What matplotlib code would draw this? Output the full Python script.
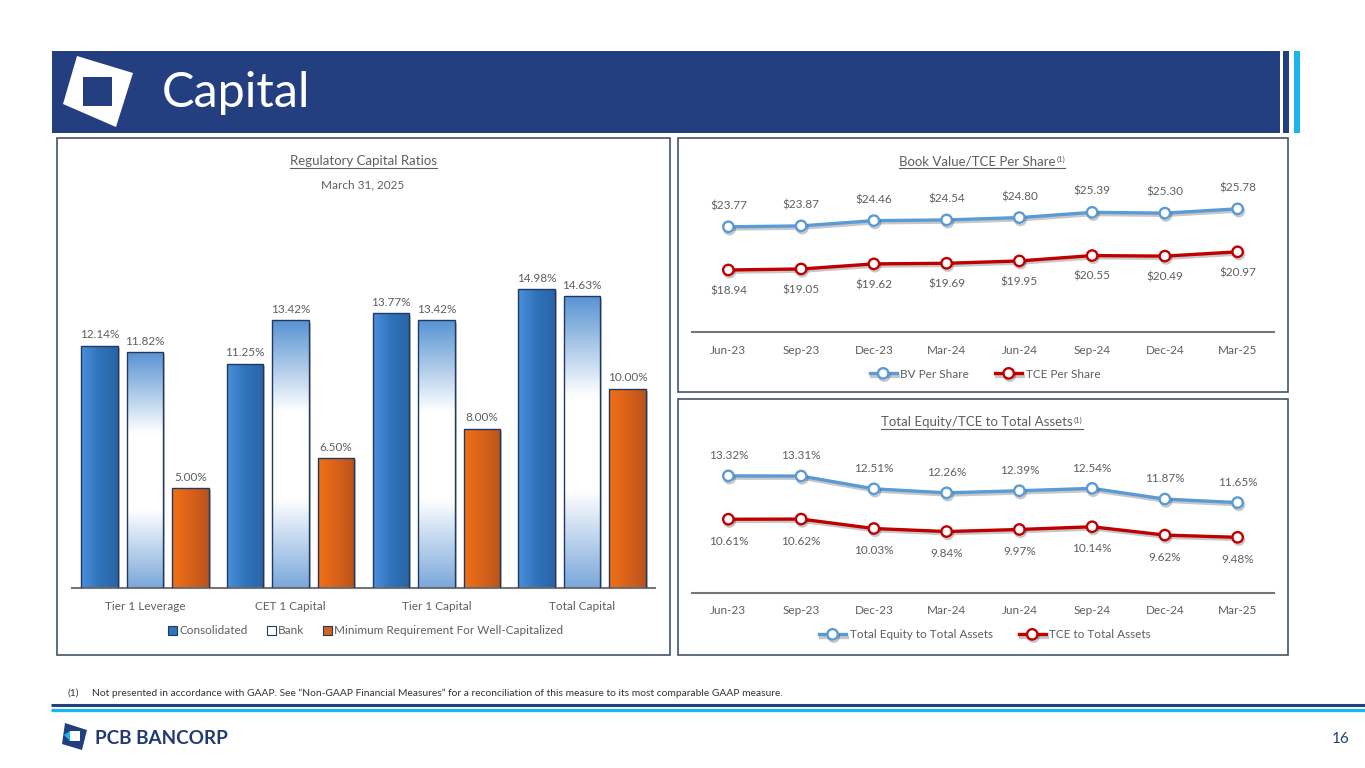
import numpy as np
import matplotlib
matplotlib.use('Agg')
import matplotlib.pyplot as plt
import matplotlib.patheffects as pe
from matplotlib.patches import Rectangle, Polygon, Patch
from matplotlib.colors import to_rgb

plt.rcParams['font.family'] = ['Lato', 'DejaVu Sans']

# Data

bar_categories = ['Tier 1 Leverage', 'CET 1 Capital', 'Tier 1 Capital', 'Total Capital']
consolidated = [12.14, 11.25, 13.77, 14.98]
bank = [11.82, 13.42, 13.42, 14.63]
well_cap_min = [5.00, 6.50, 8.00, 10.00]
bar_legend = ['Consolidated', 'Bank', 'Minimum Requirement For Well-Capitalized']

quarters = ['Jun-23', 'Sep-23', 'Dec-23', 'Mar-24', 'Jun-24', 'Sep-24', 'Dec-24', 'Mar-25']
bv_per_share = [23.77, 23.87, 24.46, 24.54, 24.80, 25.39, 25.30, 25.78]
tce_per_share = [18.94, 19.05, 19.62, 19.69, 19.95, 20.55, 20.49, 20.97]
equity_to_assets = [13.32, 13.31, 12.51, 12.26, 12.39, 12.54, 11.87, 11.65]
tce_to_assets = [10.61, 10.62, 10.03, 9.84, 9.97, 10.14, 9.62, 9.48]

# Styling

W, H = 1365, 768
NAVY = '#233F80'
SKY = '#1CB4EF'
GRAY = '#5F5F5F'
AXIS = '#767676'
EDGE = '#1F3864'
BLUE = '#5B9BD5'
RED = '#C00000'
FS = 8.5


def px_rect(x0, y0, x1, y1):
    # pixel box (top-left origin) -> figure fraction
    return [x0 / W, 1 - y1 / H, (x1 - x0) / W, (y1 - y0) / H]


def gradient_fill(ax, rect, colors, stops, vertical=False):
    t = np.linspace(0, 1, 64)
    rgb = np.array([to_rgb(c) for c in colors])
    arr = np.stack([np.interp(t, stops, rgb[:, k]) for k in range(3)], axis=-1)
    img = arr[:, None, :] if vertical else arr[None, :, :]
    x0, y0 = rect.get_x(), rect.get_y()
    w, h = rect.get_width(), rect.get_height()
    im = ax.imshow(img, extent=[x0, x0 + w, y0, y0 + h], aspect='auto',
                   origin='upper', interpolation='bilinear', zorder=2.5)
    im.set_clip_path(rect)


fig = plt.figure(figsize=(W / 100, H / 100), dpi=100)

# Background layer in pixel coordinates
bg = fig.add_axes([0, 0, 1, 1], zorder=0)
bg.set_xlim(0, W)
bg.set_ylim(H, 0)
bg.axis('off')

# Header band
bg.add_patch(Rectangle((52, 51), 1228, 82, fc=NAVY, ec='none'))
bg.add_patch(Rectangle((1283, 51), 6, 82, fc=NAVY, ec='none'))
bg.add_patch(Rectangle((1294, 51), 6, 82, fc=SKY, ec='none'))
bg.add_patch(Polygon([(77, 56), (133, 73), (116, 127), (63, 104)], closed=True, fc='white', ec='none'))
bg.add_patch(Rectangle((83, 77), 29, 29, fc=NAVY, ec='none'))
bg.text(162, 93, 'Capital', color='white', fontsize=35, va='center', ha='left')

# Panel frames
for (x0, y0, x1, y1) in [(57, 138, 670, 655), (678, 138, 1288, 392), (678, 399, 1288, 655)]:
    bg.add_patch(Rectangle((x0, y0), x1 - x0, y1 - y0, fc='white', ec='#44546A', lw=1.2))

# Footer
bg.text(67, 693, '(1)', fontsize=7.4, color='#333333', va='center')
bg.text(92, 693, 'Not presented in accordance with GAAP. See \u201cNon-GAAP Financial Measures\u201d for a '
        'reconciliation of this measure to its most comparable GAAP measure.',
        fontsize=7.4, color='#333333', va='center')
bg.plot([51, W], [705, 705], color=NAVY, lw=2.2, solid_capstyle='butt')
bg.plot([51, W], [710, 710], color=SKY, lw=2.4, solid_capstyle='butt')
bg.add_patch(Polygon([(65, 723), (87, 730), (82, 750), (62, 744)], closed=True, fc=NAVY, ec='none'))
bg.add_patch(Polygon([(64, 735), (70, 731), (70, 741)], closed=True, fc=SKY, ec='none'))
bg.add_patch(Rectangle((70, 731), 10, 10, fc='white', ec='none'))
bg.text(95, 739, 'PCB BANCORP', fontsize=13.6, fontweight='bold', color='#223A70', va='center')
bg.text(1350, 739, '16', fontsize=11, color=NAVY, va='center', ha='right')

# Panel titles (underlined later)
titles = []
titles.append((bg.text(363, 161, 'Regulatory Capital Ratios', fontsize=9.5, color=GRAY,
                       ha='center', va='center'), None))
bg.text(363, 185, 'March 31, 2025', fontsize=8.5, color=GRAY, ha='center', va='center')
titles.append((bg.text(977, 161, 'Book Value/TCE Per Share', fontsize=9.5, color=GRAY,
                       ha='center', va='center'), '(1)'))
titles.append((bg.text(977, 422, 'Total Equity/TCE to Total Assets', fontsize=9.5, color=GRAY,
                       ha='center', va='center'), '(1)'))

# Regulatory capital bar chart

ax = fig.add_axes(px_rect(72, 269, 655, 588), zorder=1)
ax.patch.set_alpha(0)
x = np.arange(len(bar_categories))
width = 0.25
step = 0.312
series = [
    (consolidated, -step, ['#4A90DA', '#2F73BA', '#2A64A6'], [0, 0.5, 1], False),
    (bank, 0, ['#5B95D3', '#FFFFFF', '#FFFFFF', '#7DA9DC'], [0, 0.34, 0.67, 1], True),
    (well_cap_min, step, ['#F07014', '#D9621A', '#B9531A'], [0, 0.5, 1], False),
]
shadow = [pe.SimplePatchShadow(offset=(1.5, -1.5), shadow_rgbFace='black', alpha=0.25), pe.Normal()]
for vals, off, cols, stops, vert in series:
    base = ax.bar(x + off, vals, width, color='white', edgecolor='none', zorder=2, path_effects=shadow)
    for rect in base:
        gradient_fill(ax, rect, cols, stops, vertical=vert)
    ax.bar(x + off, vals, width, facecolor='none', edgecolor=EDGE, lw=1, zorder=3)
    for rect, v in zip(base, vals):
        ax.annotate(f'{v:.2f}%', (rect.get_x() + rect.get_width() / 2, v), xytext=(0, 4),
                    textcoords='offset points', ha='center', va='bottom', fontsize=FS, color=GRAY)

ax.set_xlim(-0.5, 3.5)
ax.set_ylim(0, 16)
ax.set_yticks([])
ax.set_xticks(x)
ax.set_xticklabels(bar_categories, fontsize=FS, color=GRAY)
ax.tick_params(axis='x', length=0, pad=9)
for s in ['top', 'left', 'right']:
    ax.spines[s].set_visible(False)
ax.spines['bottom'].set_color(AXIS)
ax.spines['bottom'].set_linewidth(1.5)

handles = [Patch(fc='#2F73BA', ec=EDGE, lw=0.8), Patch(fc='white', ec=EDGE, lw=0.8),
           Patch(fc='#D9621A', ec=EDGE, lw=0.8)]
fig.legend(handles, bar_legend, loc='center', bbox_to_anchor=(366 / W, 1 - 631 / H), ncol=3,
           frameon=False, fontsize=FS, labelcolor=GRAY, handlelength=0.75, handleheight=0.75,
           handletextpad=0.2, columnspacing=1.6)


# Line charts

def line_panel(rect, top_vals, bot_vals, labels, ylim, fmt, up, down, legend_y):
    lax = fig.add_axes(rect, zorder=1)
    lax.patch.set_alpha(0)
    xq = np.arange(len(quarters))
    eff = [pe.SimpleLineShadow(offset=(0.8, -1.6), alpha=0.22, shadow_color='black'), pe.Normal()]
    lines = []
    for vals, col, lab in [(top_vals, BLUE, labels[0]), (bot_vals, RED, labels[1])]:
        ln, = lax.plot(xq, vals, color=col, lw=2.4, marker='o', ms=7.5, mfc='white', mec=col,
                       mew=1.7, label=lab, zorder=3, path_effects=eff)
        lines.append(ln)
    for xi, v in zip(xq, top_vals):
        lax.annotate(fmt(v), (xi, v), xytext=(0, up), textcoords='offset points',
                     ha='center', va='center', fontsize=FS, color=GRAY)
    for xi, v in zip(xq, bot_vals):
        lax.annotate(fmt(v), (xi, v), xytext=(0, -down), textcoords='offset points',
                     ha='center', va='center', fontsize=FS, color=GRAY)
    lax.set_xlim(-0.5, len(quarters) - 0.5)
    lax.set_ylim(*ylim)
    lax.set_yticks([])
    lax.set_xticks(xq)
    lax.set_xticklabels(quarters, fontsize=FS, color=GRAY)
    lax.tick_params(axis='x', length=0, pad=9)
    for s in ['top', 'left', 'right']:
        lax.spines[s].set_visible(False)
    lax.spines['bottom'].set_color(AXIS)
    lax.spines['bottom'].set_linewidth(1.5)
    lax.legend(handles=lines, loc='center', bbox_to_anchor=(985 / W, 1 - legend_y / H),
               bbox_transform=fig.transFigure, ncol=2, frameon=False, fontsize=FS,
               labelcolor=GRAY, handlelength=2.3, handletextpad=0.3, columnspacing=2.2)
    return lax


line_panel(px_rect(692, 189, 1274, 332), bv_per_share, tce_per_share,
           ['BV Per Share', 'TCE Per Share'], (12, 28), lambda v: f'${v:.2f}', 15, 15, 374)
line_panel(px_rect(692, 457, 1274, 593), equity_to_assets, tce_to_assets,
           ['Total Equity to Total Assets', 'TCE to Total Assets'], (6, 14.5),
           lambda v: f'{v:.2f}%', 14.5, 16, 635)

# Underlines and superscripts for the panel titles
fig.canvas.draw()
renderer = fig.canvas.get_renderer()
for t, sup in titles:
    bb = t.get_window_extent(renderer)
    x_end = bb.x1
    if sup:
        st = bg.text(bb.x1 + 1, H - bb.y1 + 1, sup, fontsize=5.5, color=GRAY, ha='left', va='top')
        x_end = st.get_window_extent(renderer).x1
    bg.plot([bb.x0, x_end], [H - bb.y0 + 0.5] * 2, color=GRAY, lw=0.8)

fig.savefig('out.png', dpi=100)
